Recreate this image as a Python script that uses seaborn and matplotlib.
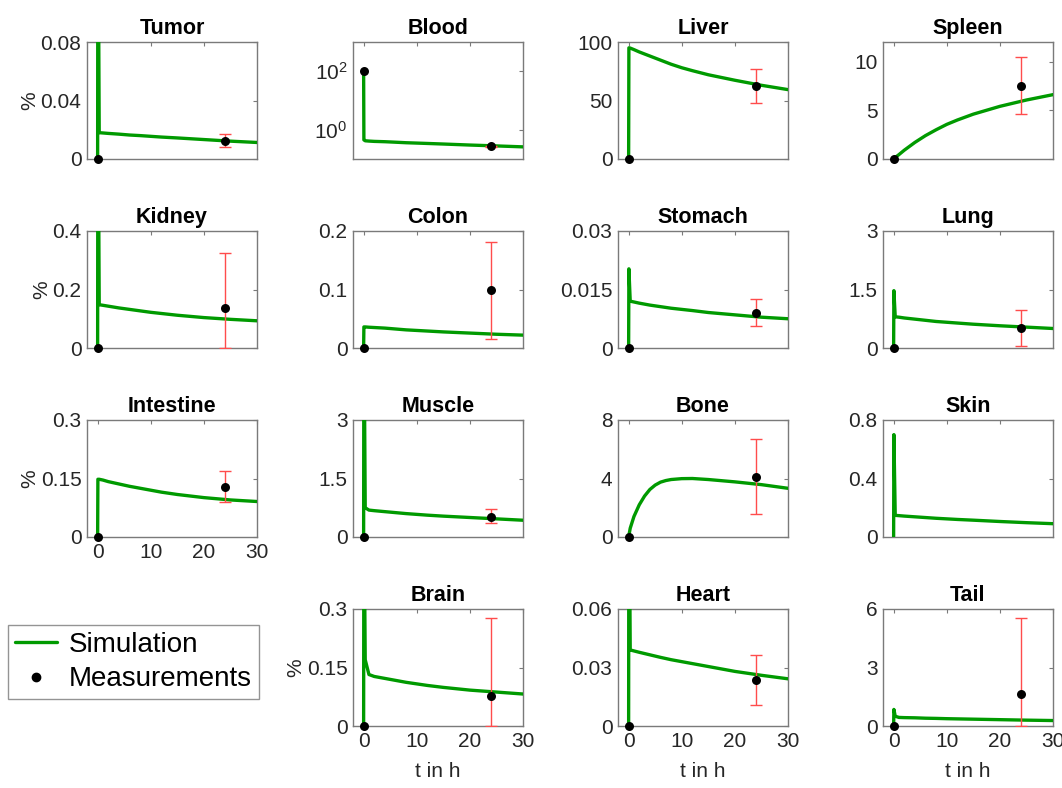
import numpy as np
import pandas as pd
import matplotlib
matplotlib.use("Agg")
import matplotlib.pyplot as plt
from matplotlib.lines import Line2D
import seaborn as sns

sns.set_theme(style="white")
plt.rcParams['font.family'] = ['Liberation Sans', 'DejaVu Sans']
plt.rcParams['mathtext.fontset'] = 'custom'
plt.rcParams['mathtext.rm'] = 'Liberation Sans'

# ---------------- data ----------------
organs = ["Tumor", "Blood", "Liver", "Spleen",
          "Kidney", "Colon", "Stomach", "Lung",
          "Intestine", "Muscle", "Bone", "Skin",
          None, "Brain", "Heart", "Tail"]

t_sim = [0, 0.05, 0.3, 1, 2, 4, 6, 8, 10, 12, 15, 20, 25, 30]

sim_tumor = [0, 0.2, 0.018, 0.0178, 0.0175, 0.017, 0.0164, 0.016, 0.0155, 0.015, 0.0144, 0.0133, 0.0122, 0.0113]
sim_blood = [100, 0.45, 0.42, 0.41, 0.40, 0.39, 0.375, 0.36, 0.35, 0.34, 0.325, 0.30, 0.28, 0.26]
sim_liver = [0, 95, 94.8, 93.5, 91.5, 88, 84.5, 81, 78, 75.5, 72, 67.3, 63, 59.3]
sim_spleen = [0, 0.03, 0.15, 0.45, 0.9, 1.7, 2.4, 3.0, 3.55, 4.0, 4.6, 5.4, 6.05, 6.6]
sim_kidney = [0, 1.0, 0.148, 0.146, 0.143, 0.137, 0.132, 0.127, 0.122, 0.118, 0.112, 0.104, 0.098, 0.093]
sim_colon = [0, 0.036, 0.036, 0.0355, 0.035, 0.034, 0.0325, 0.031, 0.030, 0.029, 0.0275, 0.0255, 0.0235, 0.022]
sim_stomach = [0, 0.0203, 0.012, 0.0118, 0.0115, 0.011, 0.0106, 0.0102, 0.0099, 0.0096, 0.0091, 0.0085, 0.0079, 0.0075]
sim_lung = [0, 1.47, 0.8, 0.79, 0.77, 0.74, 0.71, 0.68, 0.66, 0.64, 0.61, 0.57, 0.535, 0.5]
sim_intestine = [0, 0.148, 0.148, 0.146, 0.142, 0.136, 0.130, 0.125, 0.120, 0.115, 0.109, 0.101, 0.095, 0.091]
sim_muscle = [0, 6.0, 0.75, 0.69, 0.675, 0.65, 0.625, 0.6, 0.58, 0.56, 0.535, 0.5, 0.465, 0.43]
sim_skin = [0, 0.7, 0.148, 0.146, 0.143, 0.138, 0.133, 0.128, 0.124, 0.12, 0.115, 0.106, 0.098, 0.091]
sim_brain = [0, 0.6, 0.17, 0.132, 0.127, 0.122, 0.117, 0.112, 0.108, 0.104, 0.099, 0.092, 0.087, 0.082]
sim_heart = [0, 0.15, 0.039, 0.0385, 0.0378, 0.0365, 0.0352, 0.034, 0.033, 0.032, 0.0305, 0.028, 0.026, 0.0242]
sim_tail = [0, 0.85, 0.5, 0.44, 0.43, 0.42, 0.40, 0.39, 0.375, 0.365, 0.35, 0.325, 0.30, 0.28]

t_bone = [0, 0.3, 1, 2, 3, 4, 5, 6, 7, 8, 10, 12, 15, 20, 25, 30]
sim_bone = [0, 0.6, 1.4, 2.2, 2.8, 3.25, 3.55, 3.75, 3.86, 3.93, 3.99, 4.0, 3.93, 3.77, 3.58, 3.33]

sim = {"Tumor": sim_tumor, "Blood": sim_blood, "Liver": sim_liver, "Spleen": sim_spleen,
       "Kidney": sim_kidney, "Colon": sim_colon, "Stomach": sim_stomach, "Lung": sim_lung,
       "Intestine": sim_intestine, "Muscle": sim_muscle, "Bone": sim_bone, "Skin": sim_skin,
       "Brain": sim_brain, "Heart": sim_heart, "Tail": sim_tail}
sim_t = {k: (t_bone if k == "Bone" else t_sim) for k in sim}

t_meas = [0, 24]
# measurement at t=0, mean at t=24, lower and upper error bar ends at t=24
meas0 = {"Tumor": 0, "Blood": 100, "Liver": 0, "Spleen": 0, "Kidney": 0, "Colon": 0,
         "Stomach": 0, "Lung": 0, "Intestine": 0, "Muscle": 0, "Bone": 0,
         "Brain": 0, "Heart": 0, "Tail": 0}
meas24 = {"Tumor": 0.0125, "Blood": 0.27, "Liver": 62, "Spleen": 7.5, "Kidney": 0.137,
          "Colon": 0.099, "Stomach": 0.009, "Lung": 0.52, "Intestine": 0.129,
          "Muscle": 0.52, "Bone": 4.1, "Brain": 0.077, "Heart": 0.0235, "Tail": 1.65}
err_lo = {"Tumor": 0.0085, "Blood": 0.255, "Liver": 48, "Spleen": 4.6, "Kidney": 0.0,
          "Colon": 0.016, "Stomach": 0.0057, "Lung": 0.05, "Intestine": 0.09,
          "Muscle": 0.35, "Bone": 1.6, "Brain": 0.0, "Heart": 0.011, "Tail": 0.0}
err_hi = {"Tumor": 0.017, "Blood": 0.285, "Liver": 77, "Spleen": 10.5, "Kidney": 0.325,
          "Colon": 0.182, "Stomach": 0.0125, "Lung": 0.97, "Intestine": 0.169,
          "Muscle": 0.71, "Bone": 6.7, "Brain": 0.278, "Heart": 0.0365, "Tail": 5.55}

yticks = {"Tumor": [0, 0.04, 0.08], "Blood": [1, 100], "Liver": [0, 50, 100],
          "Spleen": [0, 5, 10], "Kidney": [0, 0.2, 0.4], "Colon": [0, 0.1, 0.2],
          "Stomach": [0, 0.015, 0.03], "Lung": [0, 1.5, 3], "Intestine": [0, 0.15, 0.3],
          "Muscle": [0, 1.5, 3], "Bone": [0, 4, 8], "Skin": [0, 0.4, 0.8],
          "Brain": [0, 0.15, 0.3], "Heart": [0, 0.03, 0.06], "Tail": [0, 3, 6]}
ytick_labels = {"Tumor": ["0", "0.04", "0.08"], "Blood": [r"$\mathregular{10^0}$", r"$\mathregular{10^2}$"],
                "Liver": ["0", "50", "100"], "Spleen": ["0", "5", "10"],
                "Kidney": ["0", "0.2", "0.4"], "Colon": ["0", "0.1", "0.2"],
                "Stomach": ["0", "0.015", "0.03"], "Lung": ["0", "1.5", "3"],
                "Intestine": ["0", "0.15", "0.3"], "Muscle": ["0", "1.5", "3"],
                "Bone": ["0", "4", "8"], "Skin": ["0", "0.4", "0.8"],
                "Brain": ["0", "0.15", "0.3"], "Heart": ["0", "0.03", "0.06"],
                "Tail": ["0", "3", "6"]}
ylims = {"Tumor": (0, 0.08), "Blood": (0.1, 1000), "Liver": (0, 100), "Spleen": (0, 12),
         "Kidney": (0, 0.4), "Colon": (0, 0.2), "Stomach": (0, 0.03), "Lung": (0, 3),
         "Intestine": (0, 0.3), "Muscle": (0, 3), "Bone": (0, 8), "Skin": (0, 0.8),
         "Brain": (0, 0.3), "Heart": (0, 0.06), "Tail": (0, 6)}
xticks = [0, 10, 20, 30]
xtick_labels = ["0", "10", "20", "30"]

# ---------------- layout ----------------
W, H = 1062, 788
fig = plt.figure(figsize=(W / 100, H / 100), dpi=100)
col_left = [87, 353, 618, 883]
row_top = [42, 231, 420, 609]
aw, ah = 170, 117

GREEN = "#009a00"
SPINE = "#7a7a7a"
TXT = "#262626"
FS = 15

xlabel_panels = {"Intestine", "Brain", "Heart", "Tail"}
ylabel_panels = {"Tumor", "Kidney", "Intestine", "Brain"}

for i, org in enumerate(organs):
    if org is None:
        continue
    r, c = divmod(i, 4)
    ax = fig.add_axes([col_left[c] / W, 1 - (row_top[r] + ah) / H, aw / W, ah / H])
    if org == "Blood":
        ax.set_yscale("log")
    df = pd.DataFrame({"t": sim_t[org], "v": sim[org]})
    sns.lineplot(data=df, x="t", y="v", ax=ax, color=GREEN, linewidth=2.4,
                 estimator=None, sort=False, legend=False, zorder=3)
    if org in meas24:
        ax.errorbar([24], [meas24[org]],
                    yerr=[[meas24[org] - err_lo[org]], [err_hi[org] - meas24[org]]],
                    fmt="none", ecolor="#ff4c4c", elinewidth=1.0, capsize=4,
                    capthick=1.0, zorder=4)
        dm = pd.DataFrame({"t": t_meas, "v": [meas0[org], meas24[org]]})
        sns.scatterplot(data=dm, x="t", y="v", ax=ax, color="black", s=42,
                        edgecolor="black", linewidth=0, zorder=6, legend=False,
                        clip_on=False)
    ax.set_xlim(-2, 30)
    ax.set_ylim(*ylims[org])
    ax.set_xticks(xticks)
    ax.set_yticks(yticks[org])
    ax.set_yticklabels(ytick_labels[org])
    ax.minorticks_off()
    if org in xlabel_panels:
        ax.set_xticklabels(xtick_labels)
    else:
        ax.set_xticklabels([])
    ax.set_xlabel("t in h" if org in {"Brain", "Heart", "Tail"} else "",
                  fontsize=FS, color=TXT, labelpad=8)
    ax.set_ylabel("%" if org in ylabel_panels else "", fontsize=FS, color=TXT, labelpad=1)
    ax.set_title(org, fontsize=15.5, fontweight="bold", color="black", pad=6)
    ax.tick_params(direction="in", length=3, width=0.8, top=True, right=True,
                   colors=SPINE, labelcolor=TXT, labelsize=FS, pad=4)
    for s in ax.spines.values():
        s.set_color(SPINE)
        s.set_linewidth(1.0)
        s.set_visible(True)
    ax.set_facecolor("white")

handles = [Line2D([0], [0], color=GREEN, lw=2.4),
           Line2D([0], [0], color="black", marker="o", ls="none", markersize=6)]
leg = fig.legend(handles, ["Simulation", "Measurements"],
                 loc="upper left", bbox_to_anchor=(8 / W, 1 - 625 / H),
                 fontsize=20, frameon=True, fancybox=False, borderpad=0.25,
                 handlelength=1.5, handletextpad=0.45, labelspacing=0.3,
                 borderaxespad=0, labelcolor="black")
leg.get_frame().set_edgecolor(SPINE)
leg.get_frame().set_linewidth(1.0)

fig.savefig("out.png", dpi=100, facecolor="white")
